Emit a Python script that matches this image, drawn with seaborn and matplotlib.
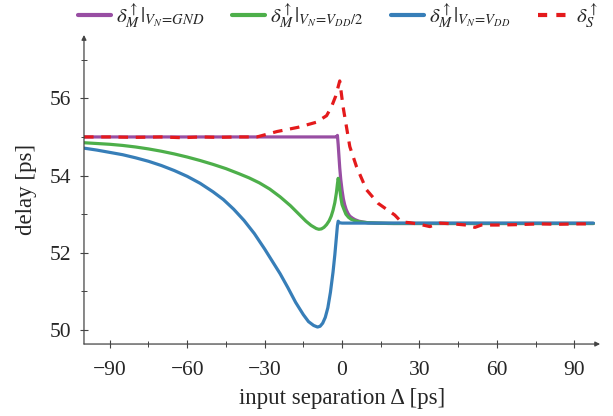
import numpy as np
import pandas as pd
import matplotlib
matplotlib.use("Agg")
import matplotlib.pyplot as plt
import seaborn as sns
from matplotlib.lines import Line2D

# delta_M, V_N = GND
gnd_x = [-100, -60, -20, -2.0, -1.8, -1.5, -1.2, -0.9, -0.5, 0, 0.5, 1.0, 1.6, 2.3, 3.0, 4.0, 5.0, 6.5, 8, 10, 13, 18, 97.4]
gnd_y = [55.0, 55.0, 55.0, 55.0, 55.04, 54.8, 54.5, 54.2, 53.9, 53.62, 53.4, 53.25, 53.12, 53.02, 52.95, 52.9, 52.86, 52.82,
         52.8, 52.78, 52.77, 52.76, 52.76]

# delta_M, V_N = VDD/2
half_x = [-100, -95, -90, -85, -80, -75, -70, -65, -60, -55, -50, -45, -40, -36, -32, -28, -24, -20, -17, -14, -12, -10,
          -9, -8, -7, -6, -5, -4.2, -3.5, -2.8, -2.2, -1.8, -1.5, -1.2, -0.8, -0.4, 0, 0.7, 1.5, 2.5, 3.5, 5, 7, 10, 14,
          20, 97.4]
half_y = [54.85, 54.83, 54.81, 54.78, 54.74, 54.69, 54.63, 54.56, 54.48, 54.39, 54.29, 54.18, 54.05, 53.94, 53.81, 53.65,
          53.45, 53.22, 53.02, 52.82, 52.71, 52.63, 52.61, 52.62, 52.66, 52.73, 52.83, 52.95, 53.1, 53.3, 53.55, 53.78, 53.93,
          53.82, 53.6, 53.4, 53.25, 53.13, 53.0, 52.92, 52.87, 52.83, 52.8, 52.78, 52.77, 52.76, 52.76]

# delta_M, V_N = VDD
vdd_x = [-100, -95, -90, -85, -80, -75, -70, -65, -60, -55, -50, -46, -42, -38, -34, -30, -27, -24, -21, -18, -15, -13,
         -11, -9.5, -8.5, -7.5, -6.5, -5.5, -4.5, -3.5, -2.8, -2.2, -1.8, -1.5, -1.0, 0, 97.4]
vdd_y = [54.71, 54.66, 54.6, 54.54, 54.46, 54.37, 54.26, 54.13, 53.98, 53.8, 53.58, 53.38, 53.13, 52.84, 52.5, 52.1, 51.78,
         51.46, 51.1, 50.72, 50.4, 50.22, 50.12, 50.08, 50.1, 50.18, 50.33, 50.58, 50.98, 51.5, 51.95, 52.4, 52.7, 52.82,
         52.78, 52.77, 52.77]

# delta_S
s_x = [-100, -90, -80, -70, -62, -55, -48, -40, -33, -25.2, -17, -10, -6, -4.1, -2.5, -1.5, -0.9, 0.4, 3.0, 5.6, 9.5, 14,
       20.4, 23, 26.3, 30, 34, 38, 43, 48, 51.5, 54, 60, 68, 76, 84, 92, 97.4]
s_y = [55.0, 55.0, 54.99, 55.0, 54.98, 55.0, 54.99, 55.0, 55.0, 55.14, 55.25, 55.38, 55.55, 55.78, 56.05, 56.3, 56.45,
       55.78, 54.75, 54.23, 53.63, 53.28, 52.98, 52.8, 52.78, 52.74, 52.68, 52.77, 52.75, 52.72, 52.66, 52.72, 52.72,
       52.73, 52.75, 52.74, 52.75, 52.75]

labels = [r"$\delta_M^{\uparrow}|_{V_N\!=\!GND}$",
          r"$\delta_M^{\uparrow}|_{V_N\!=\!V_{DD}/2}$",
          r"$\delta_M^{\uparrow}|_{V_N\!=\!V_{DD}}$",
          r"$\delta_S^{\uparrow}$"]
colors = ["#984ea3", "#4daf4a", "#377eb8", "#e41a1c"]

sns.set_style("white")
plt.rcParams["font.family"] = ["Liberation Serif", "DejaVu Serif"]
plt.rcParams["mathtext.fontset"] = "stix"

fig = plt.figure(figsize=(6.13, 4.16), dpi=100)
ax = fig.add_axes([0.137, 0.173, 0.842, 0.743])

lw = 2.3
series = [(gnd_x, gnd_y), (half_x, half_y), (vdd_x, vdd_y)]
for (xs, ys), c in zip(series, colors[:3]):
    df = pd.DataFrame({"x": xs, "y": ys})
    sns.lineplot(data=df, x="x", y="y", ax=ax, color=c, lw=lw, sort=False, estimator=None)
df_s = pd.DataFrame({"x": s_x, "y": s_y})
sns.lineplot(data=df_s, x="x", y="y", ax=ax, color=colors[3], lw=lw, sort=False,
             estimator=None, linestyle=(0, (3.0, 2.4)))

ax.set_xlim(-100, 100)
ax.set_ylim(49.64, 57.64)
ax.set_xticks([-90, -60, -30, 0, 30, 60, 90])
ax.set_xticklabels(["\u221290", "\u221260", "\u221230", "0", "30", "60", "90"])
ax.set_xticks(np.arange(-75, 100, 30), minor=True)
ax.set_yticks([50, 52, 54, 56])
ax.set_yticks([51, 53, 55, 57], minor=True)

for s in ax.spines.values():
    s.set_visible(False)
axis_col = "#444444"
for tip in [(1.0, 0), (0, 1.0)]:
    ax.annotate("", xy=tip, xytext=(0, 0), xycoords="axes fraction",
                arrowprops=dict(arrowstyle="-|>", color=axis_col, lw=0.9, mutation_scale=7,
                                shrinkA=0, shrinkB=0))

ax.tick_params(axis="both", which="major", direction="inout", length=6, width=0.8,
               color=axis_col, labelsize=15.5, bottom=True, left=True)
ax.tick_params(axis="x", which="major", pad=9)
ax.tick_params(axis="y", which="major", pad=6)
ax.tick_params(axis="both", which="minor", direction="inout", length=4, width=0.7,
               color=axis_col, bottom=True, left=True)

ax.set_xlabel("input separation \u0394 [ps]", fontsize=16.5, labelpad=6)
ax.set_ylabel("delay [ps]", fontsize=16.5, labelpad=9)

handles = [Line2D([], [], color=c, lw=3) for c in colors[:3]]
handles.append(Line2D([], [], color=colors[3], lw=3, linestyle=(0, (2.2, 2.2))))
fig.legend(handles, labels, loc="upper left", bbox_to_anchor=(0.127, 0.997), ncol=4,
           frameon=False, fontsize=15, handlelength=1.6, handletextpad=0.25,
           columnspacing=1.3, borderpad=0, borderaxespad=0)

fig.savefig("out.png", dpi=100)
